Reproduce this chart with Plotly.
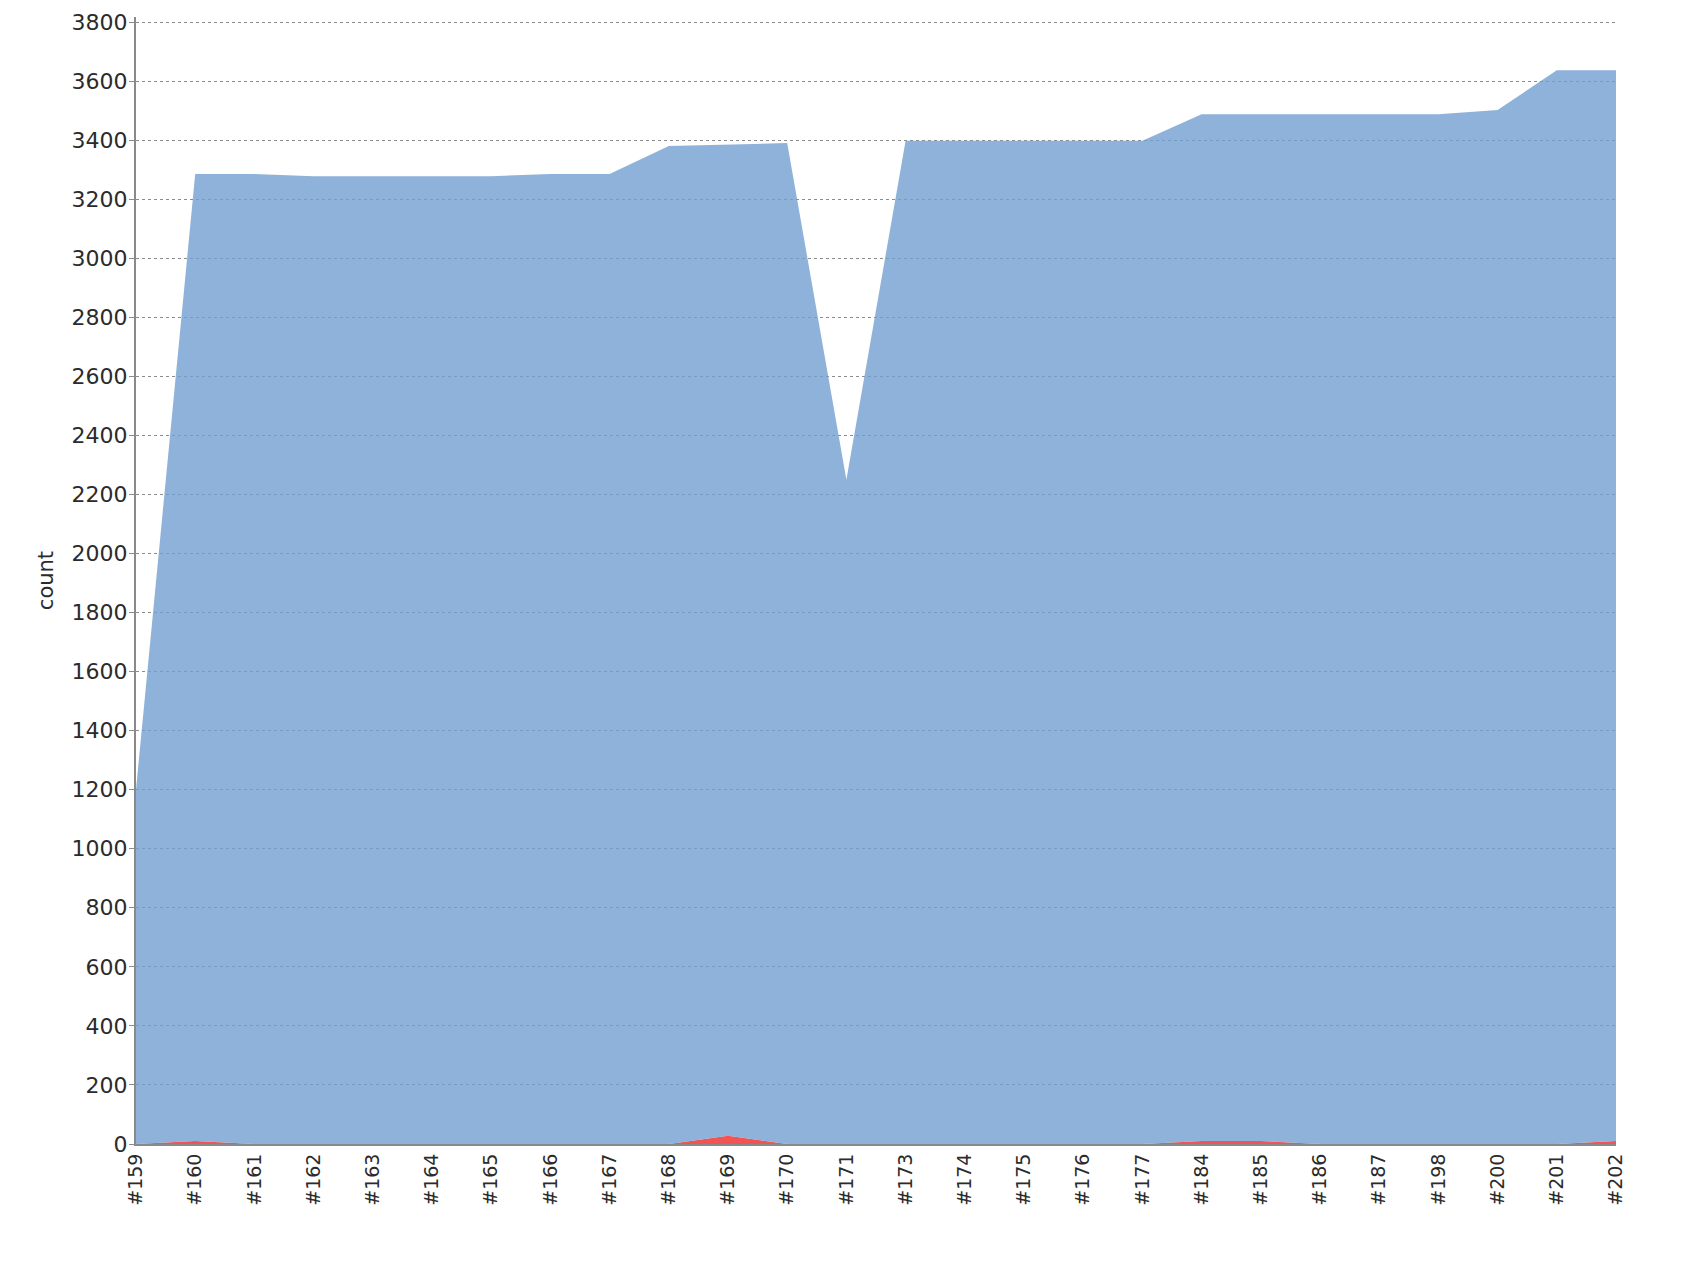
"""Test result trend: passed / failed counts per build."""

import plotly.graph_objects as go

# ---------------------------------------------------------------------------
# Data
# ---------------------------------------------------------------------------

builds = [
    "#159", "#160", "#161", "#162", "#163", "#164", "#165", "#166", "#167",
    "#168", "#169", "#170", "#171", "#173", "#174", "#175", "#176", "#177",
    "#184", "#185", "#186", "#187", "#198", "#200", "#201", "#202",
]
failed = [
    0, 10, 0, 0, 0, 0, 0, 0, 0,
    0, 28, 0, 0, 0, 0, 0, 0, 0,
    10, 10, 0, 0, 0, 0, 0, 10,
]
total = [
    1200, 3285, 3285, 3278, 3278, 3278, 3278, 3285, 3285,
    3380, 3385, 3390, 2250, 3398, 3398, 3398, 3398, 3398,
    3488, 3488, 3488, 3488, 3488, 3502, 3637, 3637,
]

BLUE = "rgba(114,159,207,0.8)"
RED = "rgba(239,41,41,0.8)"
FONT = "DejaVu Sans"

fig = go.Figure()
fig.add_trace(go.Scatter(
    x=builds, y=failed, name="failed", mode="lines",
    line={"width": 0, "color": RED}, fill="tozeroy", fillcolor=RED,
))
fig.add_trace(go.Scatter(
    x=builds, y=total, name="passed", mode="lines",
    line={"width": 0, "color": BLUE}, fill="tonexty", fillcolor=BLUE,
))

# page body has an 8px margin, so the figure is a little smaller than the window
fig.update_layout(
    width=1690, height=1260,
    margin={"l": 128, "r": 82, "t": 9, "b": 124, "autoexpand": False},
    paper_bgcolor="white", plot_bgcolor="white",
    showlegend=False,
    font={"family": FONT, "color": "#2b2b2b"},
    xaxis={
        "type": "category", "range": [0, len(builds) - 1],
        "tickangle": -90, "tickfont": {"size": 19},
        "showgrid": False, "ticks": "", "automargin": False,
        "showline": True, "linecolor": "#8a8a8a", "linewidth": 2,
        "zeroline": False,
    },
    yaxis={
        "range": [0, 3817], "dtick": 200, "tick0": 0,
        "tickfont": {"size": 22}, "automargin": False,
        "ticklabelstandoff": -3,
        "title": {"text": "count", "font": {"size": 21}, "standoff": 12},
        "showgrid": True, "gridcolor": "#8c8c8c", "griddash": "3px,3px",
        "gridwidth": 1,
        "ticks": "outside", "ticklen": 5, "tickcolor": "#8a8a8a",
        "showline": True, "linecolor": "#8a8a8a", "linewidth": 2,
        "zeroline": False,
    },
)

fig.write_html("out.html")
